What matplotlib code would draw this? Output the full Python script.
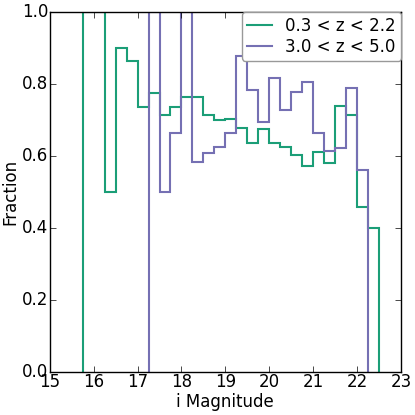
import numpy as np
import matplotlib
matplotlib.use("Agg")
from matplotlib import pyplot as plt

# bin edges, width 0.25 mag
green_start = 15.75
green_frac = [1.0, 1.0, 0.5, 0.9, 0.865, 0.737, 0.775, 0.715, 0.737, 0.763,
              0.763, 0.714, 0.70, 0.704, 0.679, 0.635, 0.674, 0.637, 0.626,
              0.603, 0.573, 0.612, 0.581, 0.74, 0.714, 0.457, 0.40]
purple_start = 17.25
purple_frac = [1.0, 0.5, 0.665, 1.0, 0.583, 0.607, 0.625, 0.665, 0.878,
               0.783, 0.693, 0.818, 0.728, 0.777, 0.806, 0.665, 0.615,
               0.623, 0.79, 0.561]
binw = 0.25

plt.style.use('classic')
fig = plt.figure(figsize=(4.15, 4.15), dpi=100, facecolor='white')
ax = fig.add_axes([0.12, 0.104, 0.846, 0.867])

edges_g = green_start + binw*np.arange(len(green_frac)+1)
edges_p = purple_start + binw*np.arange(len(purple_frac)+1)
ax.stairs(green_frac, edges_g, baseline=0, color='#1b9e77', lw=1.5,
          label='0.3 < z < 2.2')
ax.stairs(purple_frac, edges_p, baseline=0, color='#7570b3', lw=1.5,
          label='3.0 < z < 5.0')

ax.set_xlim(15, 23)
ax.set_ylim(0, 1.0)
ax.set_xticks(range(15, 24))
ax.set_yticks(np.arange(0, 1.01, 0.2))
ax.tick_params(which='major', pad=1)
ax.set_xlabel('i Magnitude', labelpad=1)
ax.set_ylabel('Fraction', labelpad=2)
leg = ax.legend(loc='upper right', fontsize=12, fancybox=True, borderaxespad=0,
                handlelength=1.5, labelspacing=0.15, borderpad=0.3)
leg.get_frame().set_edgecolor('0.6')

fig.savefig('out.png', dpi=100, facecolor='white')
